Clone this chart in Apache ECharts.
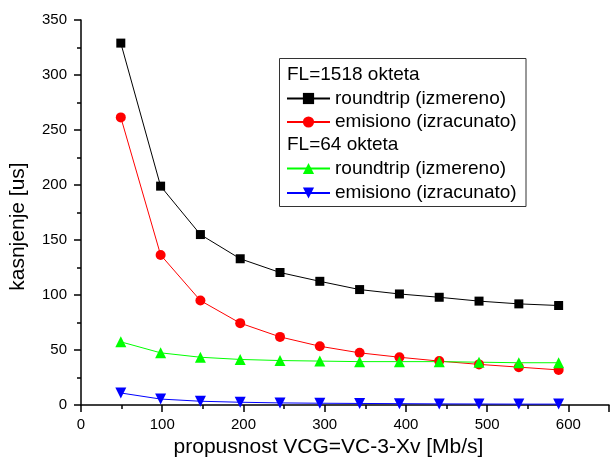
<!DOCTYPE html>
<html>
<head>
<meta charset="utf-8">
<script src="https://cdn.jsdelivr.net/npm/echarts@6/dist/echarts.min.js"></script>
<style>
  html, body { margin: 0; padding: 0; background: #fff; }
  #container { width: 612px; height: 463px; }
</style>
</head>
<body>
<div id="container"></div>
<script>
// propusnost VCG (Mb/s)
var xVals = [49, 98, 147, 196, 245, 294, 343, 392, 441, 490, 539, 588];
// FL=1518 okteta
var rt1518 = [329, 199, 155, 133, 120.5, 112.5, 105, 101, 98, 94.5, 92, 90.5];
var em1518 = [261.5, 136.5, 95, 74.5, 62, 53.5, 47.5, 43.5, 40, 37, 34.5, 32];
// FL=64 okteta
var rt64 = [57.5, 47.5, 43.5, 41.5, 40.5, 40, 39.5, 39.5, 39.5, 39, 38.5, 38.5];
var em64 = [11, 5.5, 3.5, 2.6, 2, 1.7, 1.5, 1.3, 1.1, 1, 0.9, 0.9];

function pairs(ys) {
  return ys.map(function (y, i) { return [xVals[i], y]; });
}

var dom = document.getElementById("container");
var myChart = echarts.init(dom);
var font = 'Liberation Sans, Arial, sans-serif';

var option = {
  animation: false,
  textStyle: { fontFamily: font },
  grid: { left: 80, top: 20, right: 1, bottom: 51, containLabel: false },
  xAxis: [{
    type: 'value',
    min: 0, max: 650, interval: 100,
    name: 'propusnost VCG=VC-3-Xv [Mb/s]',
    nameLocation: 'middle',
    nameGap: 30,
    nameTextStyle: { fontSize: 21, color: '#000', padding: [0, 33, 0, 0] },
    axisLine: { lineStyle: { color: '#000', width: 1.5 } },
    axisTick: { length: 7, lineStyle: { color: '#000', width: 1.5 } },
    minorTick: { show: true, splitNumber: 2, length: 4, lineStyle: { color: '#000', width: 1.5 } },
    axisLabel: {
      fontSize: 15, color: '#000', margin: 12,
      formatter: function (v) { return v % 100 === 0 ? v : ''; }
    },
    splitLine: { show: false }
  }],
  yAxis: [{
    type: 'value',
    min: 0, max: 350, interval: 50,
    name: 'kasnjenje [us]',
    nameLocation: 'middle',
    nameGap: 52,
    nameTextStyle: { fontSize: 21, color: '#000', padding: [0, 28, 0, 0] },
    axisLine: { show: true, lineStyle: { color: '#000', width: 1.5 } },
    axisTick: { show: true, length: 7, lineStyle: { color: '#000', width: 1.5 } },
    minorTick: { show: true, splitNumber: 2, length: 4, lineStyle: { color: '#000', width: 1.5 } },
    axisLabel: { fontSize: 15, color: '#000', margin: 14 },
    splitLine: { show: false }
  }],
  legend: [{
    orient: 'vertical',
    left: 286, top: 87, padding: 0,
    itemWidth: 43, itemHeight: 14, itemGap: 0.5,
    textStyle: { fontSize: 19, color: '#000', lineHeight: 23 },
    data: ['roundtrip (izmereno)', 'emisiono (izracunato)']
  }, {
    orient: 'vertical',
    left: 286, top: 157, padding: 0,
    itemWidth: 43, itemHeight: 14, itemGap: 1.5,
    textStyle: { fontSize: 19, color: '#000', lineHeight: 23 },
    data: ['roundtrip (izmereno) ', 'emisiono (izracunato) ']
  }],
  graphic: [
    { type: 'rect', shape: { x: 279.5, y: 58.5, width: 246.5, height: 148 },
      style: { fill: 'none', stroke: '#333', lineWidth: 1 } },
    { type: 'text', left: 287, top: 65,
      style: { text: 'FL=1518 okteta', fontSize: 19, fill: '#000', fontFamily: font } },
    { type: 'text', left: 287, top: 135,
      style: { text: 'FL=64 okteta', fontSize: 19, fill: '#000', fontFamily: font } }
  ],
  series: [{
    name: 'roundtrip (izmereno)',
    type: 'line',
    symbol: 'rect', symbolSize: 9,
    itemStyle: { color: '#000' },
    lineStyle: { color: '#000', width: 1 },
    data: pairs(rt1518)
  }, {
    name: 'emisiono (izracunato)',
    type: 'line',
    symbol: 'circle', symbolSize: 10,
    itemStyle: { color: '#ff0000' },
    lineStyle: { color: '#ff0000', width: 1 },
    data: pairs(em1518)
  }, {
    name: 'roundtrip (izmereno) ',
    type: 'line',
    symbol: 'triangle', symbolSize: 11,
    itemStyle: { color: '#00ff00' },
    lineStyle: { color: '#00ff00', width: 1 },
    data: pairs(rt64)
  }, {
    name: 'emisiono (izracunato) ',
    type: 'line',
    symbol: 'triangle', symbolRotate: 180, symbolSize: 11,
    itemStyle: { color: '#0000ff' },
    lineStyle: { color: '#0000ff', width: 1 },
    data: pairs(em64)
  }]
};

if (option && typeof option === "object") {
  myChart.setOption(option, true);
}
</script>
</body>
</html>
